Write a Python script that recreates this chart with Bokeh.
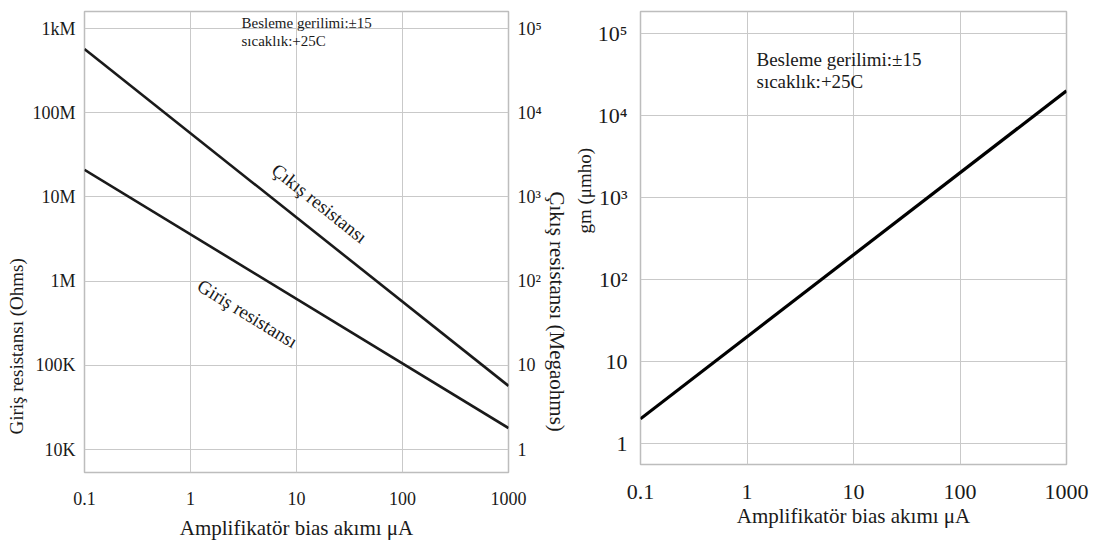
from bokeh.plotting import figure
from bokeh.models import Range1d, LogScale, LogAxis, FixedTicker, Label, Title
from bokeh.layouts import row
from bokeh.embed import file_html
from bokeh.resources import INLINE

# ---------------- data ----------------
bias_current = [0.1, 1000]                 # µA
output_resistance = [5.7e8, 5.7e4]         # Ohms (Çıkış resistansı)
input_resistance = [2.1e7, 1.8e4]          # Ohms (Giriş resistansı)
gm_values = [2, 2.0e4]                     # µmho

x_ticks = [0.1, 1, 10, 100, 1000]
x_tick_labels = ["0.1", "1", "10", "100", "1000"]
ohm_ticks = [1e4, 1e5, 1e6, 1e7, 1e8, 1e9]
ohm_tick_labels = ["10K", "100K", "1M", "10M", "100M", "1kM"]
meg_ticks = [1, 10, 100, 1e3, 1e4, 1e5]
pow_tick_labels = ["1", "10", "10\u00b2", "10\u00b3", "10\u2074", "10\u2075"]
gm_ticks = [1, 10, 100, 1e3, 1e4, 1e5]

FONT = "Liberation Serif"
GRID = "#c9c9c9"
INK = "#1a1a1a"


def style(p, tick_size):
    p.xaxis.ticker = FixedTicker(ticks=x_ticks)
    p.xaxis.major_label_overrides = dict(zip(x_ticks, x_tick_labels))
    p.xgrid.ticker = FixedTicker(ticks=x_ticks)
    for ax in p.axis:
        ax.axis_line_color = None
        ax.major_tick_line_color = None
        ax.minor_tick_line_color = None
        ax.major_label_text_font = FONT
        ax.major_label_text_font_size = tick_size
        ax.major_label_text_color = INK
        ax.axis_label_text_font = FONT
        ax.axis_label_text_font_style = "normal"
        ax.axis_label_text_color = INK
    p.grid.grid_line_color = GRID
    p.grid.grid_line_width = 1
    p.outline_line_color = "#bdbdbd"
    p.outline_line_width = 1.5
    p.background_fill_color = "white"
    p.border_fill_color = "white"


def side_title(text, size, offset, standoff):
    return Title(text=text, align="left", offset=offset, standoff=standoff,
                 text_font=FONT, text_font_size=size, text_font_style="normal",
                 text_color=INK)


# ---------------- left panel ----------------
ylo, yhi = 10 ** 3.727, 10 ** 9.202
left = figure(frame_width=424, frame_height=461,
              min_border_left=83, min_border_right=62,
              min_border_top=11, min_border_bottom=70,
              x_axis_type="log", y_axis_type="log",
              x_range=Range1d(0.1, 1000), y_range=Range1d(ylo, yhi),
              output_backend="svg", toolbar_location=None)
left.extra_y_ranges = {"meg": Range1d(ylo / 1e4, yhi / 1e4)}
left.extra_y_scales = {"meg": LogScale()}
right_ax = LogAxis(y_range_name="meg")
left.add_layout(right_ax, "right")
style(left, "18px")

left.yaxis[0].ticker = FixedTicker(ticks=ohm_ticks)
left.yaxis[0].major_label_overrides = dict(zip(ohm_ticks, ohm_tick_labels))
left.yaxis[0].major_label_standoff = 3
right_ax.ticker = FixedTicker(ticks=meg_ticks)
right_ax.major_label_overrides = dict(zip(meg_ticks, pow_tick_labels))
right_ax.major_label_standoff = 3
left.ygrid.ticker = FixedTicker(ticks=ohm_ticks)

left.xaxis.major_label_standoff = 13
left.xaxis.axis_label = "Amplifikatör bias akımı μA"
left.xaxis.axis_label_text_font_size = "21px"
left.xaxis.axis_label_standoff = 8

left.add_layout(side_title("Giriş resistansı (Ohms)", "19px", 38, 6), "left")
left.add_layout(side_title("Çıkış resistansı (Megaohms)", "21px", 180, 0), "right")

left.line(bias_current, output_resistance, line_color=INK, line_width=2.6)
left.line(bias_current, input_resistance, line_color=INK, line_width=2.6)

left.add_layout(Label(x=16.5, y=8.4e6, text="Çıkış resistansı", angle=-0.672,
                      text_align="center", text_baseline="middle",
                      text_font=FONT, text_font_size="19px", text_color=INK))
left.add_layout(Label(x=3.45, y=4.1e5, text="Giriş resistansı", angle=-0.55,
                      text_align="center", text_baseline="middle",
                      text_font=FONT, text_font_size="19px", text_color=INK))
left.add_layout(Label(x=157, y=450, x_units="screen", y_units="screen",
                      text="Besleme gerilimi:±15", text_baseline="middle",
                      text_font=FONT, text_font_size="15px", text_color=INK))
left.add_layout(Label(x=157, y=432, x_units="screen", y_units="screen",
                      text="sıcaklık:+25C", text_baseline="middle",
                      text_font=FONT, text_font_size="15px", text_color=INK))

# ---------------- right panel ----------------
right = figure(frame_width=426, frame_height=453,
               min_border_left=70, min_border_right=36,
               min_border_top=10, min_border_bottom=79,
               x_axis_type="log", y_axis_type="log",
               x_range=Range1d(0.1, 1000),
               y_range=Range1d(10 ** -0.256, 10 ** 5.268),
               output_backend="svg", toolbar_location=None)
style(right, "22px")
right.yaxis.ticker = FixedTicker(ticks=gm_ticks)
right.yaxis.major_label_overrides = dict(zip(gm_ticks, pow_tick_labels))
right.yaxis.major_label_standoff = 7
right.ygrid.ticker = FixedTicker(ticks=gm_ticks)
right.xaxis.major_label_standoff = 14
right.xaxis.axis_label = "Amplifikatör bias akımı μA"
right.xaxis.axis_label_text_font_size = "21px"
right.xaxis.axis_label_standoff = 2

right.add_layout(side_title("gm (μmho)", "19px", 231, 0), "left")

right.line(bias_current, gm_values, line_color="black", line_width=3.2)

right.add_layout(Label(x=116, y=405, x_units="screen", y_units="screen",
                       text="Besleme gerilimi:±15", text_baseline="middle",
                       text_font=FONT, text_font_size="19px", text_color=INK))
right.add_layout(Label(x=116, y=383, x_units="screen", y_units="screen",
                       text="sıcaklık:+25C", text_baseline="middle",
                       text_font=FONT, text_font_size="19px", text_color=INK))

layout = row(left, right)
open("out.html", "w").write(file_html(layout, INLINE))
